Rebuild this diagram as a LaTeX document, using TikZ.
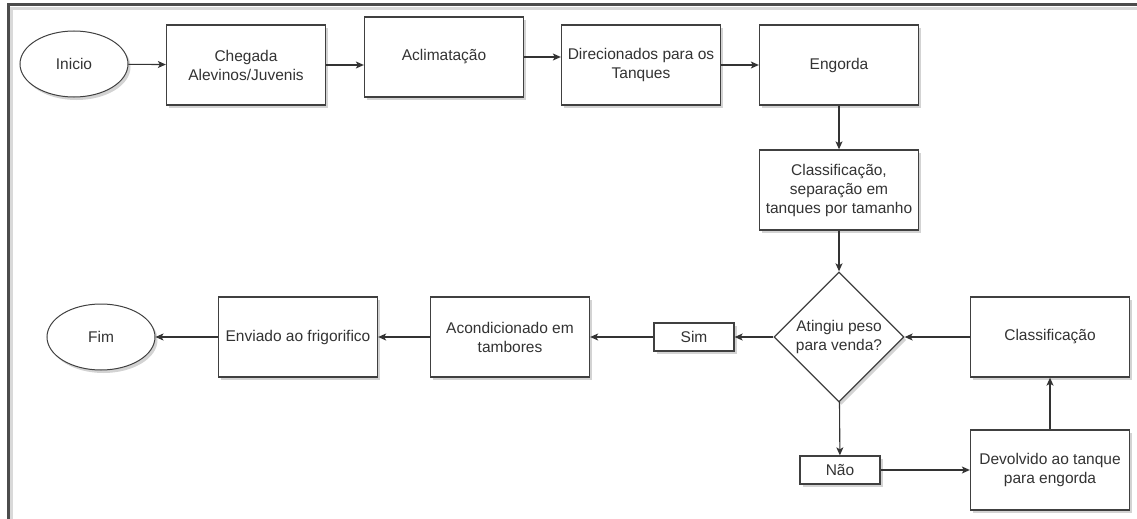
\documentclass[tikz,border=0pt]{standalone}
\usepackage{fontspec}
\setmainfont{Liberation Sans}
\usetikzlibrary{shapes.geometric,arrows.meta,shadows}

\begin{document}
\begin{tikzpicture}[x=1pt,y=-1pt,
  font=\fontsize{15.5}{19}\selectfont, text=black!80,
  base/.style={draw=black!75,line width=1.3pt,fill=white,
    drop shadow={shadow xshift=2.5pt,shadow yshift=-3pt,opacity=0.35}},
  proc/.style={base,rectangle,minimum width=159pt,minimum height=80pt,inner sep=0pt,align=center},
  term/.style={base,ellipse,minimum width=108pt,minimum height=66pt,inner sep=0pt,line width=1pt},
  decis/.style={base,diamond,minimum width=130pt,minimum height=130pt,inner sep=0pt,align=center},
  resp/.style={base,rectangle,minimum width=80pt,minimum height=28pt,inner sep=0pt},
  seta/.style={draw=black!80,line width=1.1pt,-{Stealth[length=8pt,width=7pt,inset=2pt]}}]
\useasboundingbox (0,0) rectangle (1137,519);

% moldura
\draw[black!15,line width=3pt] (11,530) -- (11,9) -- (1145,9);
\draw[black!70,line width=3pt] (8,530) -- (8,5) -- (1145,5);

\node[term] (ini) at (74,64) {Inicio};
\node[proc] (cheg) at (246,65) {Chegada\\Alevinos/Juvenis};
\node[proc] (aclim) at (444,57) {Aclimatação};
\node[proc] (direc) at (641,65) {Direcionados para os\\Tanques};
\node[proc] (engo) at (839,65) {Engorda};
\node[proc] (clsep) at (839,190) {Classificação,\\separação em\\tanques por tamanho};
\node[decis] (ating) at (839,337) {Atingiu peso\\para venda?};
\node[proc] (class) at (1050,337) {Classificação};
\node[proc] (devol) at (1050,470) {Devolvido ao tanque\\para engorda};
\node[resp] (sim) at (694,337) {Sim};
\node[resp] (nao) at (840,470) {Não};
\node[proc] (acond) at (510,337) {Acondicionado em\\tambores};
\node[proc] (envia) at (298,337) {Enviado ao frigorifico};
\node[term] (fim) at (101,337) {Fim};

\draw[seta] (ini) -- (cheg);
\draw[seta] (cheg.east) -- (cheg.east -| aclim.west);
\draw[seta] (aclim.east) -- (aclim.east -| direc.west);
\draw[seta] (direc) -- (engo);
\draw[seta] (engo) -- (clsep);
\draw[seta] (clsep) -- (ating);
\draw[seta] (class) -- (ating);
\draw[seta] (ating) -- (sim);
\draw[seta] (sim) -- (acond);
\draw[seta] (acond) -- (envia);
\draw[seta] (envia) -- (fim);
\draw[seta] (ating) -- (nao);
\draw[seta] (nao) -- (devol);
\draw[seta] (devol) -- (class);
\end{tikzpicture}
\end{document}
